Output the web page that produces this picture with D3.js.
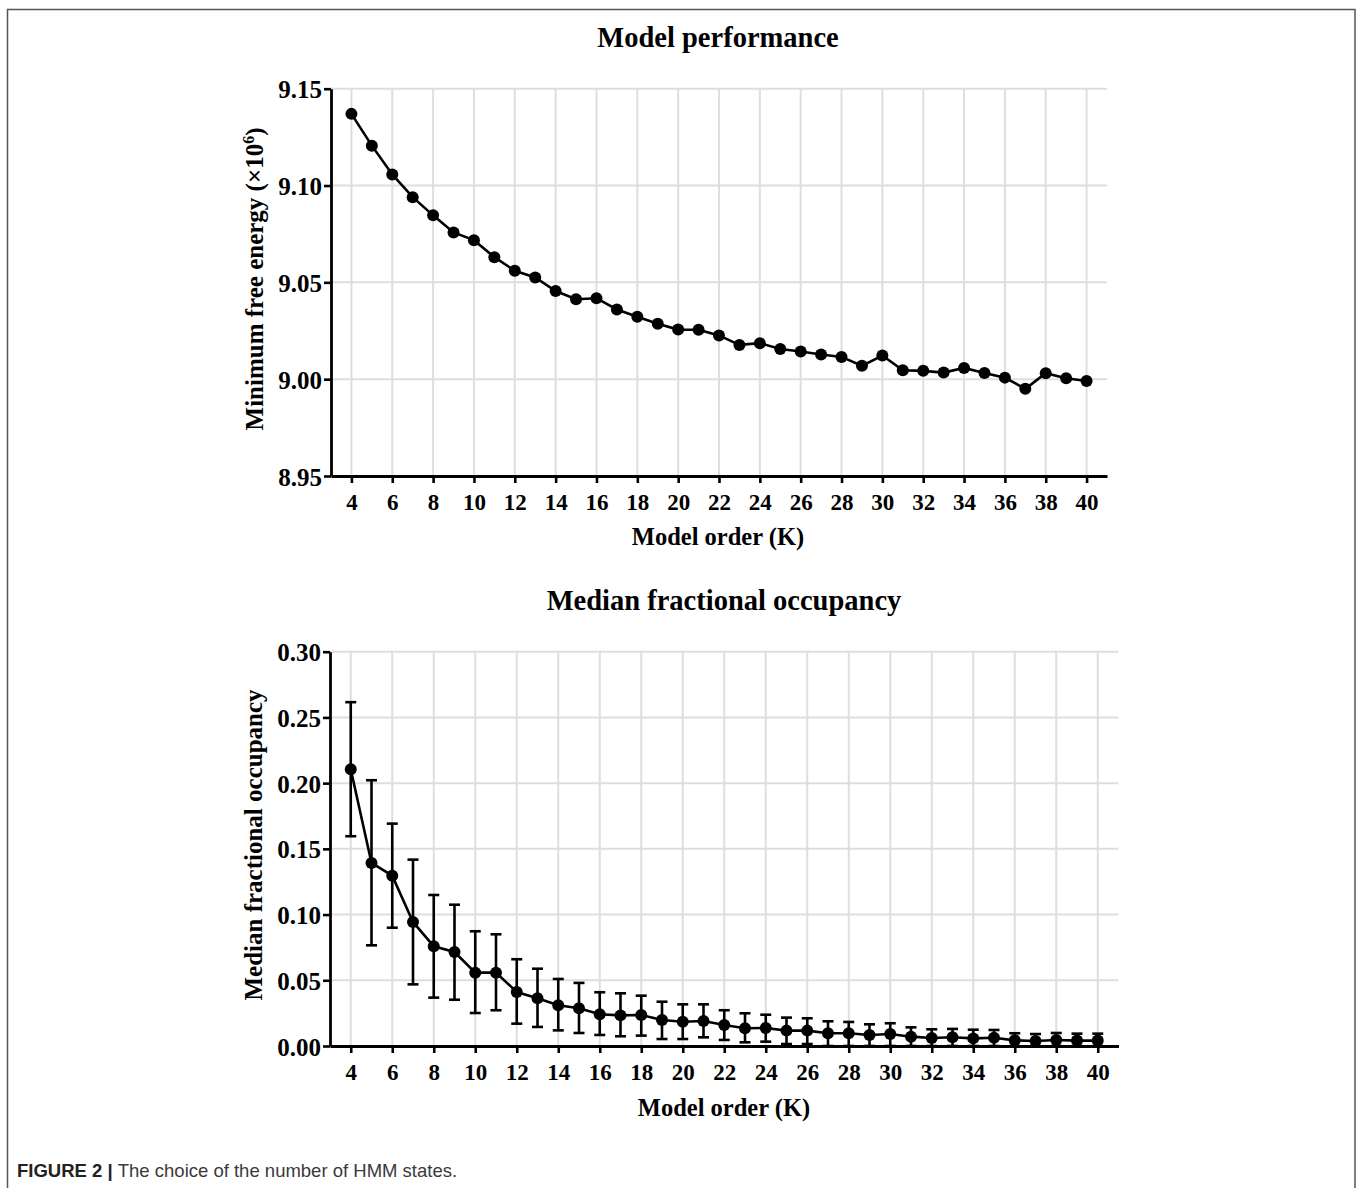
<!DOCTYPE html>
<html>
<head>
<meta charset="utf-8">
<script src="https://cdn.jsdelivr.net/npm/d3@7"></script>
<style>
  html, body { margin: 0; padding: 0; background: #fff; }
  svg { display: block; }
</style>
</head>
<body>
<svg id="chart" width="1357" height="1188"></svg>
<script>
// ---------- DATA ----------
const modelOrder = [4,5,6,7,8,9,10,11,12,13,14,15,16,17,18,19,20,21,22,
  23,24,25,26,27,28,29,30,31,32,33,34,35,36,37,38,39,40];

const freeEnergy = [9.137, 9.1206, 9.1057, 9.094, 9.0846, 9.0758, 9.0718, 9.063,
  9.056, 9.0525, 9.0455, 9.0413, 9.0418, 9.036, 9.0322, 9.0286, 9.0256, 9.0255,
  9.0226, 9.0177, 9.0186, 9.0156, 9.0143, 9.0127, 9.0115, 9.0069, 9.0122, 9.0046,
  9.0043, 9.0034, 9.0058, 9.0032, 9.0008, 8.995, 9.0031, 9.0005, 8.9991];

const occMedian = [0.2106, 0.1393, 0.1296, 0.0944, 0.0759, 0.0715, 0.0558, 0.0558,
  0.0411, 0.0363, 0.031, 0.0287, 0.0241, 0.0233, 0.0236, 0.0198, 0.0185, 0.019,
  0.016, 0.0135, 0.0137, 0.0117, 0.0117, 0.0097, 0.0097, 0.0084, 0.0091, 0.0071,
  0.0061, 0.0066, 0.0058, 0.0063, 0.0043, 0.0038, 0.0046, 0.0041, 0.0041];

const occUpper = [0.2616, 0.2022, 0.1692, 0.1418, 0.1149, 0.1075, 0.0873, 0.085,
  0.066, 0.0588, 0.051, 0.048, 0.0409, 0.0401, 0.0383, 0.0337, 0.0317, 0.0317,
  0.0272, 0.0249, 0.0238, 0.0216, 0.0211, 0.0188, 0.0183, 0.0165, 0.0173, 0.0142,
  0.0127, 0.013, 0.0124, 0.0122, 0.0097, 0.0091, 0.0099, 0.0094, 0.0094];

const occLower = [0.1596, 0.0766, 0.090, 0.0469, 0.0368, 0.0352, 0.0251, 0.0272,
  0.017, 0.0145, 0.0119, 0.0099, 0.0084, 0.0074, 0.0079, 0.0053, 0.0053, 0.0066,
  0.0046, 0.0028, 0.0033, 0.0015, 0.0015, 0.0, 0.0, 0.0, 0.0, 0.0,
  0.0, 0.0, 0.0, 0.0, 0.0, 0.0, 0.0, 0.0, 0.0];

const xTicks = [4,6,8,10,12,14,16,18,20,22,24,26,28,30,32,34,36,38,40];
const yTicksTop = [8.95, 9.00, 9.05, 9.10, 9.15];
const yTicksBottom = [0.00, 0.05, 0.10, 0.15, 0.20, 0.25, 0.30];

const titleTop = "Model performance";
const titleBottom = "Median fractional occupancy";
const xLabel = "Model order (K)";
const yLabelBottom = "Median fractional occupancy";

// ---------- DRAW ----------
const svg = d3.select("#chart");
const SERIF = "'Liberation Serif', 'Times New Roman', Times, serif";
const GRID = "#dedede";

// frame
svg.append("path")
  .attr("d", "M7.5,1200 V9.5 H1355 V1200")
  .attr("fill", "none").attr("stroke", "#555").attr("stroke-width", 1.5);

function panel(cfg) {
  const g = svg.append("g");
  const x = d3.scaleLinear().domain([3, 41]).range(cfg.xr);
  const y = d3.scaleLinear().domain(cfg.yd).range(cfg.yr);

  // grid
  g.append("g").selectAll("line.h").data(cfg.yTicks).join("line")
    .attr("x1", cfg.xr[0]).attr("x2", cfg.xr[1])
    .attr("y1", d => y(d)).attr("y2", d => y(d))
    .attr("stroke", GRID).attr("stroke-width", 2);
  g.append("g").selectAll("line.v").data(xTicks).join("line")
    .attr("x1", d => x(d)).attr("x2", d => x(d))
    .attr("y1", cfg.yr[1]).attr("y2", cfg.yr[0])
    .attr("stroke", GRID).attr("stroke-width", 2);

  // error bars
  if (cfg.upper) {
    const eb = g.append("g").attr("stroke", "#000").attr("stroke-width", 2.6);
    modelOrder.forEach((k, i) => {
      const cx = x(k);
      const yu = y(cfg.upper[i]), yl = y(cfg.lower[i]);
      eb.append("line").attr("x1", cx).attr("x2", cx).attr("y1", yu).attr("y2", yl);
      eb.append("line").attr("x1", cx - 5.5).attr("x2", cx + 5.5).attr("y1", yu).attr("y2", yu);
      eb.append("line").attr("x1", cx - 5.5).attr("x2", cx + 5.5).attr("y1", yl).attr("y2", yl);
    });
  }

  // line
  const line = d3.line().x((d, i) => x(modelOrder[i])).y(d => y(d));
  g.append("path").datum(cfg.values)
    .attr("d", line).attr("fill", "none")
    .attr("stroke", "#000").attr("stroke-width", 2.6);

  g.append("g").selectAll("circle").data(cfg.values).join("circle")
    .attr("cx", (d, i) => x(modelOrder[i])).attr("cy", d => y(d))
    .attr("r", 6).attr("fill", "#000");

  // axes
  const ax = g.append("g").attr("transform", `translate(0,${cfg.yr[0]})`)
    .call(d3.axisBottom(x).tickValues(xTicks).tickSize(7).tickSizeOuter(0).tickPadding(11));
  const ay = g.append("g").attr("transform", `translate(${cfg.xr[0]},0)`)
    .call(d3.axisLeft(y).tickValues(cfg.yTicks).tickFormat(d3.format(".2f"))
      .tickSize(7).tickSizeOuter(0).tickPadding(2));
  [ax, ay].forEach(a => {
    a.select(".domain").attr("stroke", "#000").attr("stroke-width", 2.8);
    a.selectAll(".tick line").attr("stroke", "#000").attr("stroke-width", 2.6);
    a.selectAll(".tick text").attr("fill", "#000")
      .attr("font-family", SERIF).attr("font-weight", "bold");
  });
  ax.selectAll(".tick text").attr("font-size", 23);
  ay.selectAll(".tick text").attr("font-size", 25).attr("dy", "0.36em");

  // title
  svg.append("text").attr("x", cfg.titleX).attr("y", cfg.titleY)
    .attr("text-anchor", "middle").attr("font-family", SERIF)
    .attr("font-weight", "bold").attr("font-size", 28.5).text(cfg.title);
  // x label
  svg.append("text").attr("x", cfg.titleX).attr("y", cfg.xLabelY)
    .attr("text-anchor", "middle").attr("font-family", SERIF)
    .attr("font-weight", "bold").attr("font-size", 24.5).text(xLabel);
  // y label
  const yl = svg.append("text")
    .attr("transform", `translate(${cfg.yLabelX},${cfg.yLabelY}) rotate(-90)`)
    .attr("text-anchor", "middle").attr("font-family", SERIF)
    .attr("font-weight", "bold").attr("font-size", 25);
  cfg.yLabel(yl);
}

panel({
  xr: [331, 1107], yr: [476, 88.7], yd: [8.95, 9.15], yTicks: yTicksTop,
  values: freeEnergy, title: titleTop, titleX: 718, titleY: 47, xLabelY: 545,
  yLabelX: 263, yLabelY: 279,
  yLabel: t => {
    t.append("tspan").text("Minimum free energy (×10");
    t.append("tspan").attr("dy", -9).attr("font-size", 16).text("6");
    t.append("tspan").attr("dy", 9).text(")");
  }
});

panel({
  xr: [330, 1118.5], yr: [1046, 651.7], yd: [0, 0.30], yTicks: yTicksBottom,
  values: occMedian, upper: occUpper, lower: occLower,
  title: titleBottom, titleX: 724, titleY: 610, xLabelY: 1116,
  yLabelX: 262, yLabelY: 845,
  yLabel: t => t.text(yLabelBottom)
});

// caption
const cap = svg.append("text").attr("x", 17).attr("y", 1177)
  .attr("font-family", "'Liberation Sans', Arial, Helvetica, sans-serif")
  .attr("font-size", 18.5).attr("fill", "#333");
cap.append("tspan").attr("font-weight", "bold").attr("fill", "#222").text("FIGURE 2 | ");
cap.append("tspan").attr("fill", "#3a3a3a").text("The choice of the number of HMM states.");
</script>
</body>
</html>
